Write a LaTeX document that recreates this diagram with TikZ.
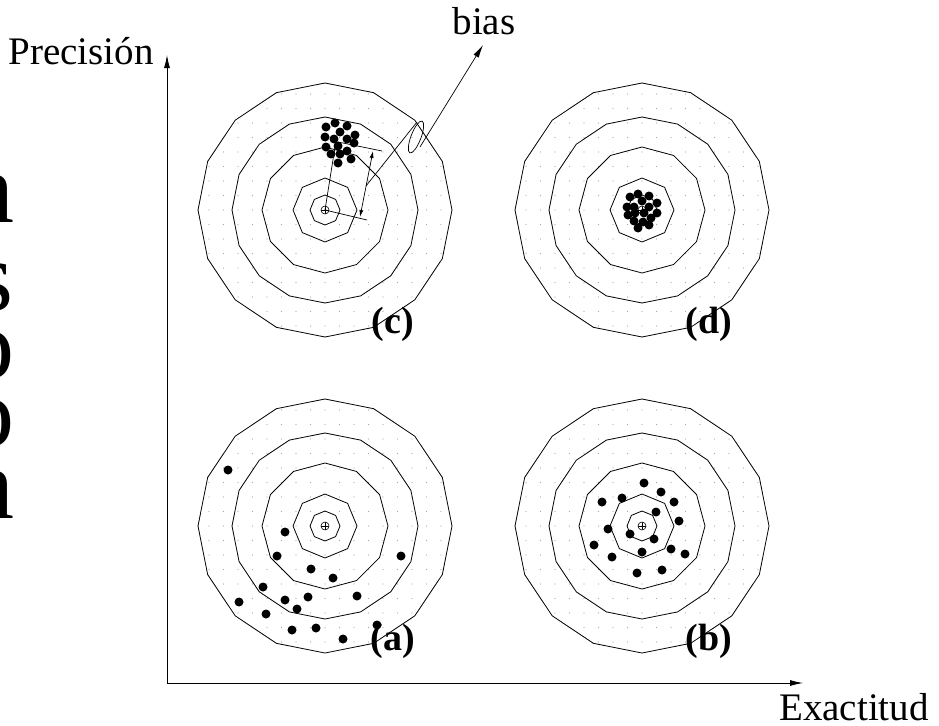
\documentclass[tikz,border=0pt]{standalone}
\usepackage{fontspec}
\setmainfont{Liberation Serif}
\usetikzlibrary{arrows.meta}
\newcommand\polyring[3]{%
  \draw[ring,shift={#1}] (90:#2) \foreach \k in {1,...,#3}{ -- ({90+\k*360/#3}:#2) } -- cycle;}
\newcommand\dotgrid[1]{%
  \begin{scope}[shift={#1}]
    \clip (90:127) \foreach \k in {1,...,16}{ -- ({90+\k*22.5}:127) } -- cycle;
    \foreach \i in {-9,...,9}{\foreach \j in {-9,...,9}{
      \fill[griddot] (\i*14.5,\j*14.5) circle[radius=0.6];}}
  \end{scope}}
\newcommand\mytarget[1]{%
  \dotgrid{#1}%
  \polyring{#1}{127}{16}%
  \polyring{#1}{93}{16}%
  \polyring{#1}{63}{12}%
  \polyring{#1}{32}{8}%
  \polyring{#1}{15}{8}}
\begin{document}
\begin{tikzpicture}[x=1pt,y=-1pt,line width=0.8pt,
  ring/.style={line width=0.8pt},
  griddot/.style={black!35},
  hit/.style={black},
  ctr/.style={draw,circle,minimum size=8pt,inner sep=0pt,line width=0.6pt,
    path picture={\draw[line width=0.6pt] (path picture bounding box.north) -- (path picture bounding box.south)
      (path picture bounding box.west) -- (path picture bounding box.east);}},
  lbl/.style={font=\fontsize{39}{44}\selectfont,inner sep=0pt},
  tag/.style={font=\fontsize{38}{42}\selectfont\bfseries,inner sep=0pt},
  frag/.style={font=\fontsize{100}{110}\selectfont,inner sep=0pt},
  axarrow/.style={-{Latex[length=13pt,width=6pt]}},
  dimarrow/.style={{Latex[length=7pt,width=4pt]}-{Latex[length=7pt,width=4pt]},line width=0.7pt}
]
\useasboundingbox (0,0) rectangle (939,725);

% cut-off large letters at the left edge
\begin{scope}
  \clip (0,0) rectangle (14,725);
  \node[frag,anchor=base east] (f1) at (15,222) {n};
  \node[frag,anchor=base east] (f2) at (14,310) {s};
  \node[frag,anchor=base east] (f3) at (15,378) {o};
  \node[frag,anchor=base east] (f4) at (15,446) {o};
  \node[frag,anchor=base east] (f5) at (15,518) {n};
\end{scope}

% axes
\coordinate (O) at (167,683);
\coordinate (ytip) at (167,55);
\coordinate (xtip) at (803,683);
\draw[axarrow] (O) -- (ytip);
\draw[axarrow] (O) -- (xtip);
\node[lbl,anchor=base east] (ylab) at (154,64) {Precisión};
\node[lbl,anchor=base] (xlab) at (854,720) {Exactitud};

% targets
\mytarget{(325,210)}
\mytarget{(642,210)}
\mytarget{(325,526)}
\mytarget{(642,526)}

\node[ctr] (cc) at (325,210) {};
\node[ctr] (cd) at (642,210) {};
\node[ctr] (ca) at (325,526) {};
\node[ctr] (cb) at (642,526) {};

% hits (a)
\foreach \p in {(228,470),(285,532),(277,556),(401,556),(311,569),(333,578),(263,587),
  (285,600),(308,597),(357,596),(297,609),(239,602),(266,614),(292,630),(316,628),(343,639),(377,625)}
  \fill[hit] \p circle[radius=4.5];
% hits (b)
\foreach \p in {(644,483),(661,492),(602,502),(622,498),(674,502),(656,512),(679,521),(608,529),
  (630,534),(654,539),(594,545),(642,552),(671,549),(685,554),(612,557),(637,573),(662,570)}
  \fill[hit] \p circle[radius=4.5];
% hits (c)
\foreach \p in {(326,127),(335,123),(347,126),(340,132),(325,137),(334,139),(347,139),(355,135),
  (354,143),(326,147),(338,146),(331,154),(340,154),(347,151),(351,159),(338,163)}
  \fill[hit] \p circle[radius=4.5];
% hits (d)
\foreach \p in {(630,197),(638,194),(649,196),(642,201),(657,203),(627,207),(634,207),(649,207),
  (657,213),(628,215),(635,213),(644,213),(634,221),(643,222),(651,218),(638,228),(649,225)}
  \fill[hit] \p circle[radius=4.5];

% bias annotation in (c)
\coordinate (cl) at (335,147);
\coordinate (l2a) at (338,142);
\coordinate (l2b) at (382,151);
\coordinate (l3b) at (367,220);
\coordinate (d1) at (360,217);
\coordinate (d2) at (373,151);
\coordinate (lead) at (366,186);
\coordinate (ltop) at (417,122);
\coordinate (bstart) at (420,147);
\coordinate (btip) at (483,45);
\draw[line width=0.7pt] (cc.center) -- (cl);
\draw[line width=0.7pt] (l2a) -- (l2b);
\draw[line width=0.7pt] (cc.center) -- (l3b);
\draw[dimarrow] (d1) -- (d2);
\draw[line width=0.7pt] (lead) -- (ltop);
\draw[line width=0.7pt,rotate around={69:(416,137)}] (416,137) ellipse[x radius=17,y radius=5];
\draw[axarrow,line width=0.7pt] (bstart) -- (btip);
\node[lbl,anchor=base] (bias) at (484,35) {bias};

% labels
\node[tag,anchor=base] (ta) at (393,650) {(a)};
\node[tag,anchor=base] (tb) at (709,650) {(b)};
\node[tag,anchor=base] (tc) at (393,333) {(c)};
\node[tag,anchor=base] (td) at (709,333) {(d)};
\end{tikzpicture}
\end{document}
